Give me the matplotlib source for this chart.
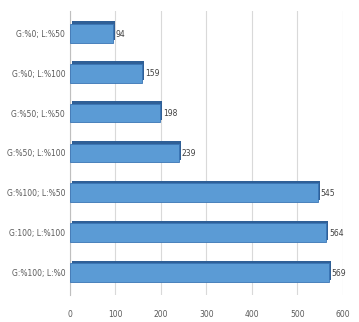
import numpy as np
import matplotlib.pyplot as plt

labels = ["G:%100; L:%0", "G:100; L:%100", "G:%100; L:%50", "G:%50; L:%100",
          "G:%50; L:%50", "G:%0; L:%100", "G:%0; L:%50"]
values = [569, 564, 545, 239, 198, 159, 94]
xticks = [0, 100, 200, 300, 400, 500, 600]

fig = plt.figure(figsize=(3.59, 3.22), dpi=100)
ax = fig.add_axes([0.195, 0.085, 0.76, 0.88])

y = np.arange(len(values))
# dark back face to fake the 3d depth
ax.barh(y + 0.06, values, height=0.47, left=4, color='#2f5f96', zorder=2)
ax.barh(y, values, height=0.47, color='#5b9bd5', edgecolor='#3a75b5',
        linewidth=0.6, zorder=3)
for yi, v in zip(y, values):
    ax.text(v + 6, yi - 0.02, str(v), va='center', ha='left', fontsize=5.5,
            color='#404040', zorder=4)

ax.set_xlim(0, 600)
ax.set_ylim(-0.55, len(values) - 0.45)
ax.set_xticks(xticks)
ax.set_yticks(y)
ax.set_yticklabels(labels)
ax.tick_params(axis='both', length=0, labelsize=5.5, labelcolor='#595959')
ax.tick_params(axis='x', pad=11)
ax.xaxis.grid(True, color='#d9d9d9', linewidth=0.8)
ax.set_axisbelow(True)
for s in ['top', 'right', 'bottom']:
    ax.spines[s].set_visible(False)
ax.spines['left'].set_color('#bfbfbf')

fig.savefig('out.png', dpi=100)
